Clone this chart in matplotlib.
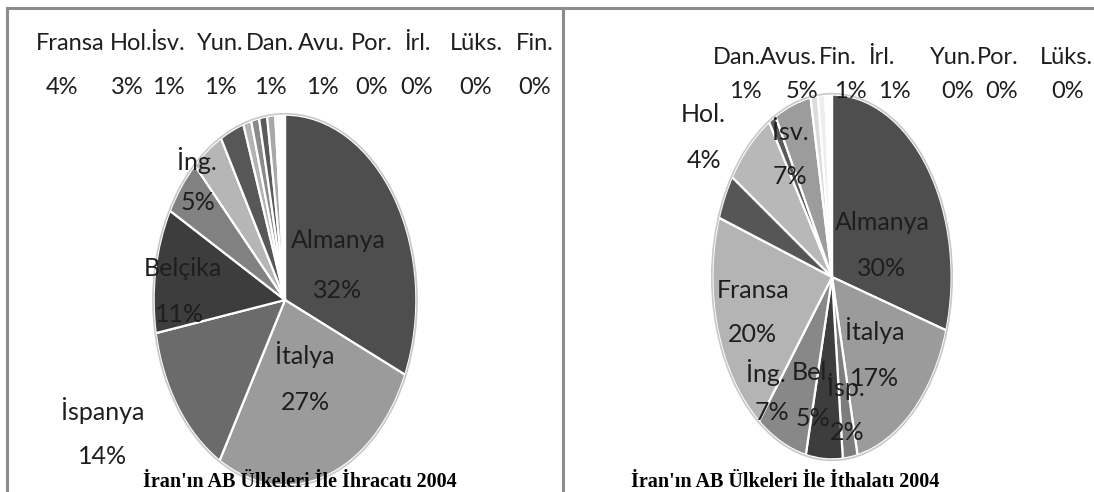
import matplotlib.pyplot as plt

plt.rcParams['font.family'] = ['Lato', 'DejaVu Sans']

W, H = 1094, 492

# Ihracat 2004 (left pie), clockwise from 12 o'clock
exp_names = ['Almanya', 'İtalya', 'İspanya', 'Belçika', 'İng.', 'Fransa', 'Hol.',
             'İsv.', 'Yun.', 'Dan.', 'Avu.', 'Por.', 'İrl.', 'Lüks.', 'Fin.']
exp_pct = [32, 27, 14, 11, 5, 4, 3, 1, 1, 1, 1, 0, 0, 0, 0]
exp_vals = [32, 27, 14, 11, 5, 4, 3, 1, 1, 1, 1, 0.3, 0.3, 0.3, 0.3]
exp_colors = ['#4e4e4e', '#9b9b9b', '#6b6b6b', '#3d3d3d', '#818181', '#b6b6b6', '#575757',
              '#b3b3b3', '#8a8a8a', '#5a5a5a', '#a8a8a8', '#d8d8d8', '#ececec', '#e0e0e0', '#f2f2f2']

# Ithalat 2004 (right pie)
imp_names = ['Almanya', 'İtalya', 'İsp.', 'Bel.', 'İng.', 'Fransa', 'Hol.',
             'İsv.', 'Dan.', 'Avus.', 'Fin.', 'İrl.', 'Yun.', 'Por.', 'Lüks.']
imp_pct = [30, 17, 2, 5, 7, 20, 4, 7, 1, 5, 1, 1, 0, 0, 0]
imp_vals = [30, 17, 2, 5, 7, 20, 4, 7, 1, 5, 1, 1, 0.3, 0.3, 0.3]
imp_colors = ['#4e4e4e', '#9b9b9b', '#7d7d7d', '#3d3d3d', '#888888', '#b4b4b4', '#565656',
              '#b8b8b8', '#5a5a5a', '#9c9c9c', '#dcdcdc', '#eeeeee', '#e2e2e2', '#f0f0f0', '#e8e8e8']

titles = ["İran'ın AB Ülkeleri İle İhracatı 2004", "İran'ın AB Ülkeleri İle İthalatı 2004"]

# label positions in pixels: (name x, name y, pct x, pct y, size)
exp_lab = [(338, 240, 338, 290, 18), (305, 355, 305, 403, 18), (103, 410, 103, 457, 18),
           (183, 268, 180, 315, 18), (197, 160, 198, 203, 18), (70, 43, 62, 88, 17),
           (131, 43, 127, 88, 17), (168, 43, 168, 88, 17), (220, 43, 220, 88, 17),
           (270, 43, 270, 88, 17), (321, 43, 322, 88, 17), (372, 43, 372, 88, 17),
           (417, 43, 417, 88, 17), (476, 43, 476, 88, 17), (535, 43, 535, 88, 17)]
imp_lab = [(882, 222, 882, 268, 18), (875, 330, 875, 378, 18), (846, 387, 847, 432, 18),
           (812, 373, 813, 418, 18), (766, 373, 772, 412, 18), (753, 290, 752, 335, 18),
           (703, 114, 704, 160, 18), (790, 133, 790, 177, 18), (737, 58, 745, 92, 17),
           (789, 58, 802, 92, 17), (838, 58, 850, 92, 17), (881, 58, 894, 92, 17),
           (953, 58, 958, 92, 17), (998, 58, 1002, 92, 17), (1066, 58, 1068, 92, 17)]

fig = plt.figure(figsize=(W / 100, H / 100), dpi=100)
fig.patch.set_facecolor('white')


def add_pie(cx, cy, rx, ry, vals, colors):
    ax = fig.add_axes([(cx - rx) / W, 1 - (cy + ry) / H, 2 * rx / W, 2 * ry / H])
    ax.pie(vals, colors=colors, startangle=90, counterclock=False, radius=1,
           wedgeprops=dict(edgecolor='white', linewidth=1.6))
    # faint rim around the pie
    ax.pie([1], colors=['none'], radius=1.005,
           wedgeprops=dict(edgecolor='#c8c8c8', linewidth=1.2, fill=False))
    ax.set_aspect('auto')
    ax.set_xlim(-1.02, 1.02)
    ax.set_ylim(-1.02, 1.02)
    ax.axis('off')


add_pie(285, 300, 134, 189, exp_vals, exp_colors)
add_pie(832, 277, 122, 186, imp_vals, imp_colors)


def add_labels(names, pcts, pos):
    for n, p, (nx, ny, px, py, fs) in zip(names, pcts, pos):
        fig.text(nx / W, 1 - ny / H, n, ha='center', va='center', fontsize=fs, color='#1e1e1e')
        fig.text(px / W, 1 - py / H, '%d%%' % p, ha='center', va='center', fontsize=fs, color='#1e1e1e')


add_labels(exp_names, exp_pct, exp_lab)
add_labels(imp_names, imp_pct, imp_lab)

fig.text(300 / W, 1 - 482 / H, titles[0], ha='center', va='center', fontsize=14.5,
         family='Liberation Serif', weight='bold')
fig.text(785 / W, 1 - 482 / H, titles[1], ha='center', va='center', fontsize=14.5,
         family='Liberation Serif', weight='bold')

# panel borders
ov = fig.add_axes([0, 0, 1, 1], facecolor='none')
ov.set_xlim(0, W)
ov.set_ylim(H, 0)
ov.axis('off')
ov.plot([7, 7, W], [H, 8, 8], color='#8c8c8c', lw=2.2, solid_joinstyle='miter')
ov.plot([563, 563], [8, H], color='#8c8c8c', lw=2.2)

fig.savefig('out.png', dpi=100)
